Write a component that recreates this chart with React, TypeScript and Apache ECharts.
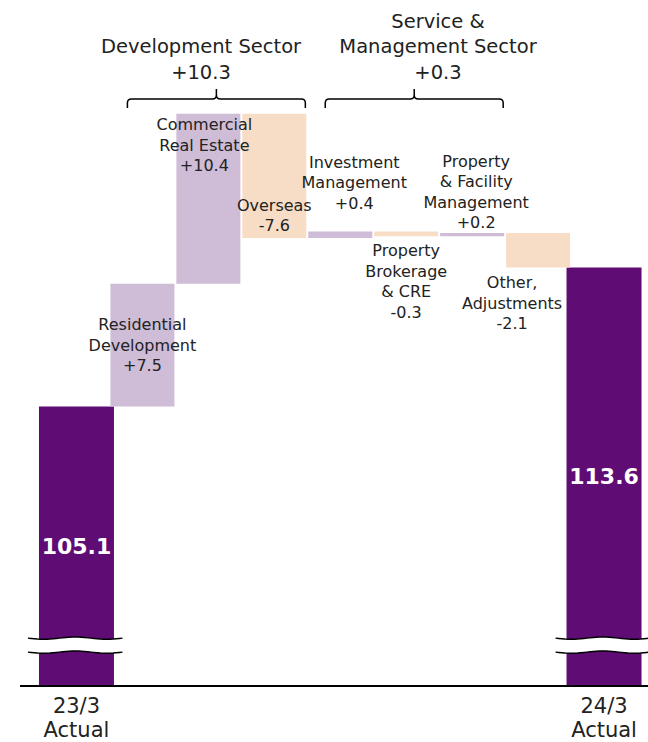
import React, { useEffect, useRef } from "react";
import * as echarts from "echarts";

// ---------- data ----------
const categories = [
  "23/3\nActual",
  "Residential\nDevelopment",
  "Commercial\nReal Estate",
  "Overseas",
  "Investment\nManagement",
  "Property\nBrokerage\n& CRE",
  "Property\n& Facility\nManagement",
  "Other,\nAdjustments",
  "24/3\nActual",
];
const startValue = 105.1;
const endValue = 113.6;
const deltas = [7.5, 10.4, -7.6, 0.4, -0.3, 0.2, -2.1];
const sectorNames = ["Development Sector", "Service &\nManagement Sector"];
const sectorTotals = [10.3, 0.3];
const sectorFirstCat = [1, 4];
const sectorLastCat = [3, 6];

// ---------- styles ----------
const ACTUAL = "#600C75";
const UP = "#CFBCD6";
const DOWN = "#F8DDC6";
const TEXT = "#222222";
const FONT = "'DejaVu Sans', Verdana, sans-serif";
const Y_MIN = 88;
const Y_MAX = 125;
const BREAK_VALUE = 90.5;
const TOTAL_BAR_WIDTH = 75;
const sectorTitleX = [201, 438];

const labelLayouts: any[] = [
  null,
  { position: "inside" },
  { position: "insideTop", distance: 1, offset: [-4, 0] },
  { position: "insideBottom", distance: 2 },
  { position: "top", distance: 0, offset: [14, -18] },
  { position: "bottom", distance: 4 },
  { position: "top", distance: 0, offset: [4, 0] },
  { position: "bottom", distance: 5, offset: [-26, 0] },
  null,
];

echarts.graphic.registerShape(
  "brace",
  (echarts.graphic as any).extendPath(
    "M0,19 L0,14 Q0,10 4,10 L84,10 Q88,10 88,6 L88,0 M88,6 Q88,10 92,10 L172,10 Q176,10 176,14 L176,19",
    {}
  )
);

const fmt = (d: number) => (d > 0 ? "+" + d.toFixed(1) : d.toFixed(1));

function buildOption() {
  const n = categories.length;
  const baseData: any[] = new Array(n).fill("-");
  const deltaData: any[] = new Array(n).fill("-");
  let cum = startValue;
  deltas.forEach((d, k) => {
    const i = k + 1;
    const next = cum + d;
    baseData[i] = Math.min(cum, next);
    deltaData[i] = {
      value: Math.abs(d),
      itemStyle: { color: d >= 0 ? UP : DOWN },
      label: {
        show: true,
        ...labelLayouts[i],
        formatter: () => `${categories[i]}\n${fmt(d)}`,
      },
    };
    cum = next;
  });
  const totalData = [
    [0, startValue],
    [n - 1, endValue],
  ];

  return {
    animation: false,
    grid: { left: 43.5, right: 11, top: 81, bottom: 56 },
    xAxis: {
      type: "category",
      data: categories,
      axisLine: { show: false },
      axisTick: { show: false },
      axisLabel: {
        interval: 0,
        margin: 8,
        color: TEXT,
        fontFamily: FONT,
        fontSize: 21,
        lineHeight: 24,
        formatter: (v: string, i: number) => (i === 0 || i === n - 1 ? v : ""),
      },
    },
    yAxis: { type: "value", min: Y_MIN, max: Y_MAX, show: false, splitLine: { show: false } },
    series: [
      {
        type: "bar",
        stack: "w",
        barWidth: 64,
        data: baseData,
        itemStyle: { color: "rgba(0,0,0,0)" },
        silent: true,
      },
      {
        type: "bar",
        stack: "w",
        barWidth: 64,
        data: deltaData,
        label: {
          show: true,
          color: TEXT,
          fontFamily: FONT,
          fontSize: 16,
          lineHeight: 20.5,
          align: "center",
        },
      },
      {
        type: "custom",
        data: totalData,
        encode: { x: 0, y: 1 },
        renderItem: (_params: any, api: any) => {
          const idx = api.value(0);
          const v = api.value(1);
          const top = api.coord([idx, v]);
          const bottom = api.coord([idx, Y_MIN]);
          return {
            type: "group",
            children: [
              {
                type: "rect",
                shape: {
                  x: top[0] - TOTAL_BAR_WIDTH / 2,
                  y: top[1],
                  width: TOTAL_BAR_WIDTH,
                  height: bottom[1] - top[1],
                },
                style: { fill: ACTUAL },
              },
              {
                type: "text",
                style: {
                  text: v.toFixed(1),
                  x: top[0],
                  y: (top[1] + bottom[1]) / 2,
                  align: "center",
                  verticalAlign: "middle",
                  fill: "#ffffff",
                  fontFamily: FONT,
                  fontWeight: "bold",
                  fontSize: 22,
                },
              },
            ],
          };
        },
      },
    ],
  };
}

export default function App() {
  const ref = useRef<HTMLDivElement>(null);
  useEffect(() => {
    const chart = echarts.init(ref.current!, null, { renderer: "svg" });
    chart.setOption(buildOption() as any);

    const px = (i: number, v: number) =>
      chart.convertToPixel({ xAxisIndex: 0, yAxisIndex: 0 } as any, [i, v]) as number[];

    const elements: any[] = [];
    const axisY = px(0, Y_MIN)[1];
    elements.push({
      type: "line",
      z: 100,
      shape: { x1: 20, y1: axisY, x2: 648, y2: axisY },
      style: { stroke: "#000", lineWidth: 2 },
    });

    const wave = (x0: number, x1: number, y0: number) => {
      const pts: number[][] = [];
      for (let k = 0; k <= 30; k++) {
        const t = k / 30;
        pts.push([x0 + (x1 - x0) * t, y0 + 1.2 * Math.sin(t * Math.PI * 3)]);
      }
      return pts;
    };
    [0, categories.length - 1].forEach((i) => {
      const [cx, cy] = px(i, BREAK_VALUE);
      const x0 = cx - 48.5;
      const x1 = cx + 46;
      const top = wave(x0, x1, cy - 7);
      const bot = wave(x0, x1, cy + 7);
      elements.push({
        type: "polygon",
        z: 100,
        shape: { points: top.concat(bot.slice().reverse()) },
        style: { fill: "#fff" },
      });
      elements.push({
        type: "polyline",
        z: 101,
        shape: { points: top },
        style: { stroke: "#000", lineWidth: 1.5, fill: "none" },
      });
      elements.push({
        type: "polyline",
        z: 101,
        shape: { points: bot },
        style: { stroke: "#000", lineWidth: 1.5, fill: "none" },
      });
    });

    sectorNames.forEach((name, s) => {
      const xa = px(sectorFirstCat[s], Y_MIN)[0] - 15;
      const xb = px(sectorLastCat[s], Y_MIN)[0] + 31;
      elements.push({
        type: "brace",
        z: 100,
        x: xa,
        y: 89,
        scaleX: (xb - xa) / 176,
        scaleY: 1,
        style: { stroke: "#000", fill: "none", lineWidth: 1.5 },
      });
      elements.push({
        type: "text",
        z: 100,
        x: sectorTitleX[s],
        y: 85,
        style: {
          text: `${name}\n+${sectorTotals[s].toFixed(1)}`,
          fill: TEXT,
          fontFamily: FONT,
          fontSize: 19.5,
          lineHeight: 25.5,
          align: "center",
          verticalAlign: "bottom",
        },
      });
    });

    chart.setOption({ graphic: elements } as any);
    return () => chart.dispose();
  }, []);
  return (
    <div
      ref={ref}
      style={{ position: "fixed", left: 0, top: 0, width: 648, height: 742, background: "#fff" }}
    />
  );
}
